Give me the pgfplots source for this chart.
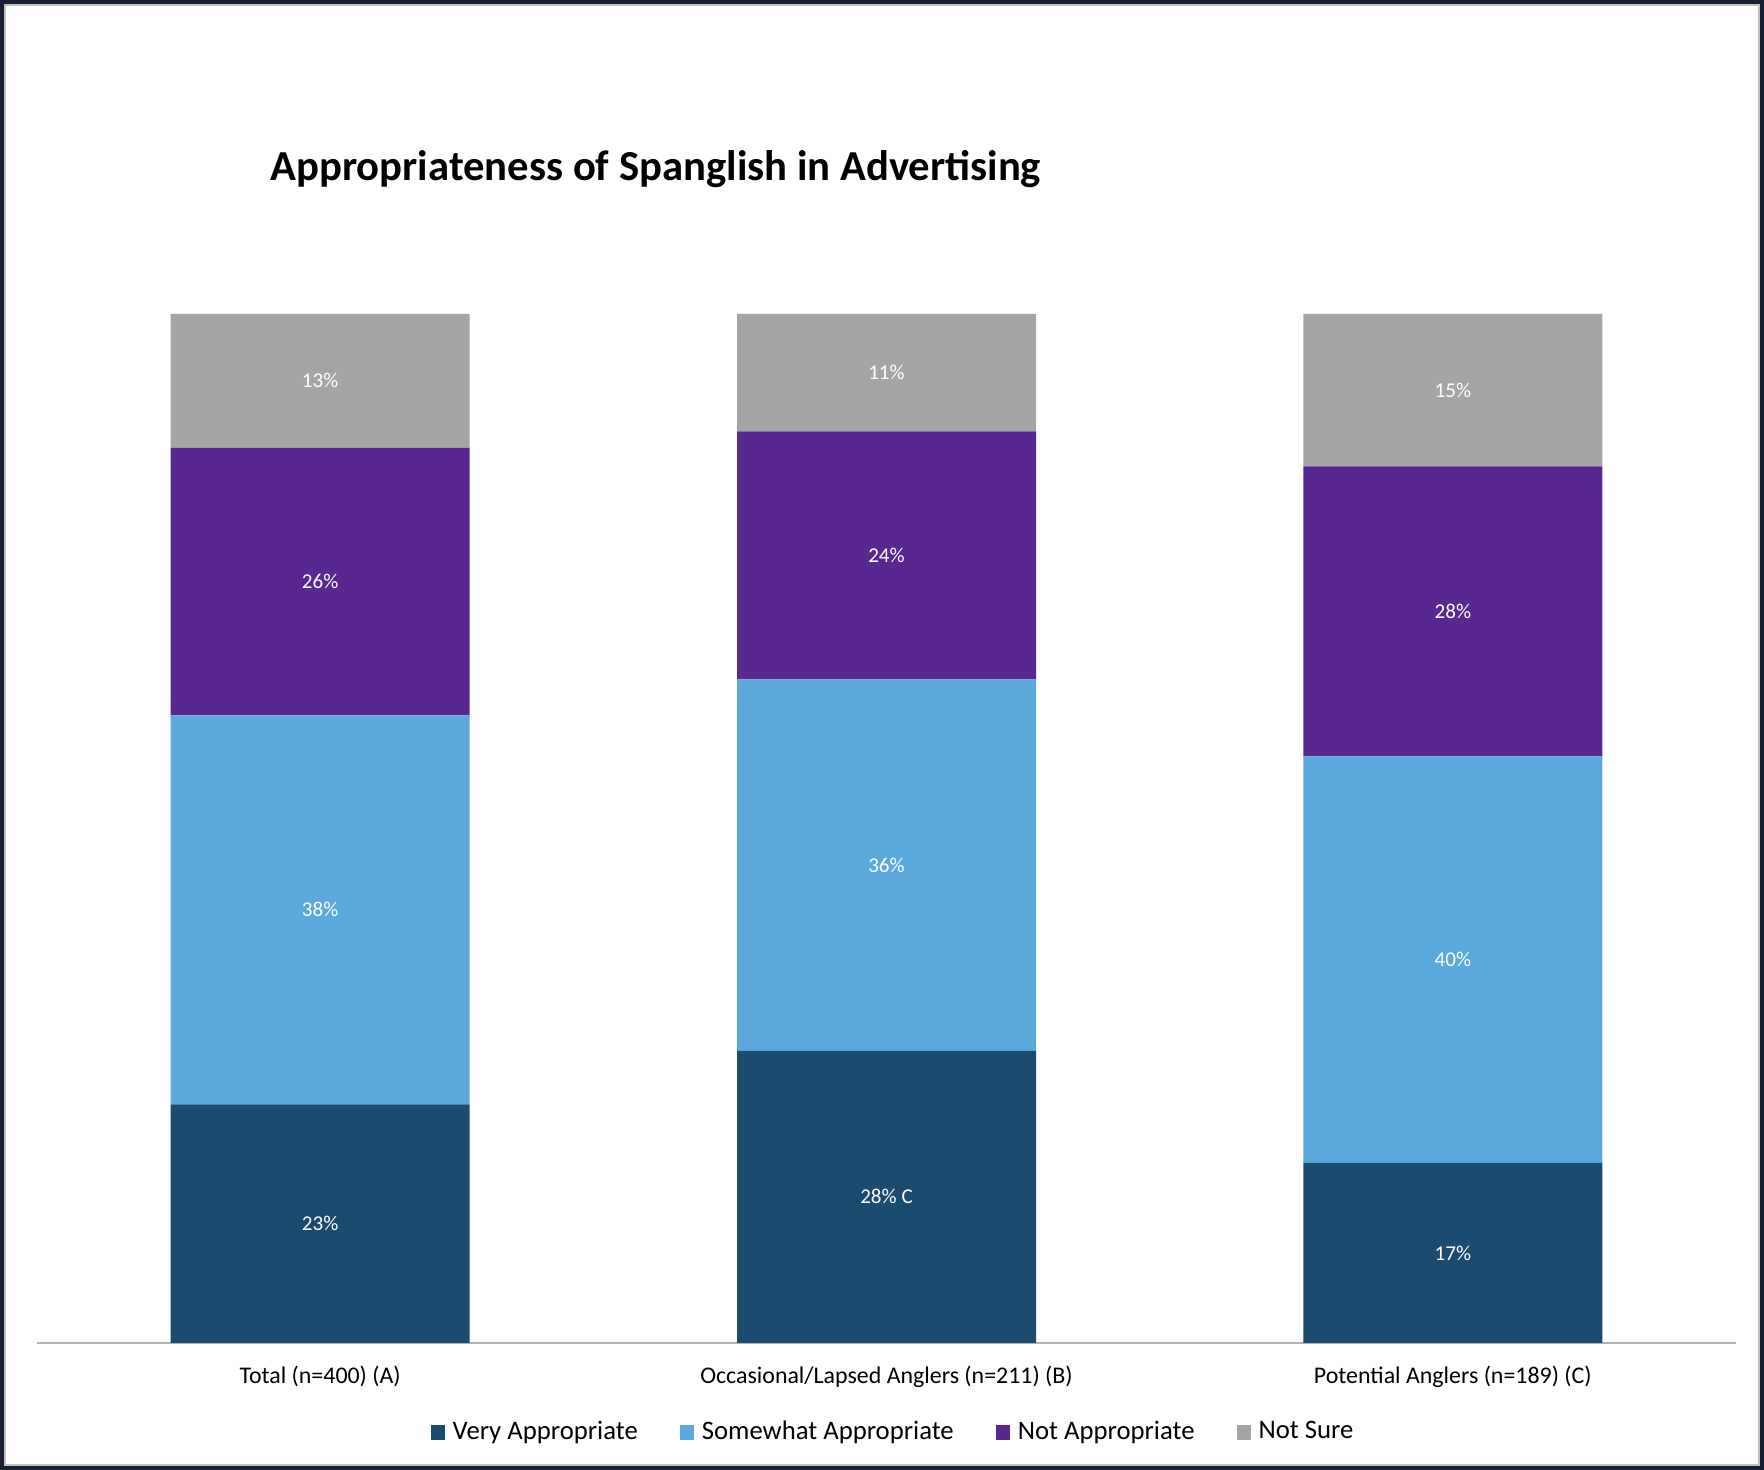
\documentclass[border=0pt]{standalone}
\usepackage{pgfplots}
\pgfplotsset{compat=1.18}
\usepackage{fontspec}
\setmainfont{Carlito}
\definecolor{cVA}{RGB}{27,75,110}
\definecolor{cSA}{RGB}{91,168,220}
\definecolor{cNA}{RGB}{88,39,143}
\definecolor{cNS}{RGB}{165,165,165}
\definecolor{cFrame}{RGB}{26,30,50}
\begin{document}
\begin{tikzpicture}
\useasboundingbox (0,0) rectangle (17.64,14.70);
\fill[white] (0,0) rectangle (17.64,14.70);
\draw[cFrame, line width=0.04cm] (0.02,0.02) rectangle (17.62,14.68);
\draw[black!25, line width=0.012cm] (0.05,0.05) rectangle (17.59,14.65);
\begin{axis}[
  at={(0.37cm,1.27cm)}, anchor=south west,
  scale only axis, width=16.99cm, height=10.29cm,
  ybar stacked, bar width=0.528,
  xmin=-0.5, xmax=2.5, ymin=0, ymax=100,
  axis x line*=bottom, axis y line=none,
  x axis line style={draw=black!30, line width=0.015cm, -},
  xtick={0,1,2}, major tick length=0pt,
  xticklabels={Total (n=400) (A), Occasional/Lapsed Anglers (n=211) (B), Potential Anglers (n=189) (C)},
  xticklabel style={anchor=base, yshift=-0.41cm, font=\fontsize{6.8}{8}\selectfont, text=black},
  ytick=\empty,
  title={Appropriateness of Spanglish in Advertising},
  title style={at={(0.137,1.1095)}, anchor=base west, inner sep=0pt, font=\fontsize{12.15}{14}\selectfont\bfseries},
  point meta=explicit symbolic,
  nodes near coords,
  every node near coord/.append style={anchor=center, text=white, font=\fontsize{6}{7}\selectfont},
  legend columns=4,
  legend style={at={(0.2313,-0.087)}, anchor=west, draw=none, fill=none, inner sep=0pt,
    font=\fontsize{7.6}{9}\selectfont, nodes={inner sep=0pt},
    /tikz/every odd column/.append style={column sep=0.075cm},
    /tikz/every even column/.append style={column sep=0.42cm}},
  legend image code/.code={\fill[#1] (0cm,-0.072cm) rectangle (0.145cm,0.072cm);},
]
\addplot[fill=cVA, draw=none] coordinates {(0,23.2) [23\%] (1,28.4) [28\%~C] (2,17.5) [17\%]};
\addplot[fill=cSA, draw=none] coordinates {(0,37.8) [38\%] (1,36.1) [36\%] (2,39.5) [40\%]};
\addplot[fill=cNA, draw=none] coordinates {(0,26.0) [26\%] (1,24.1) [24\%] (2,28.2) [28\%]};
\addplot[fill=cNS, draw=none] coordinates {(0,13.0) [13\%] (1,11.4) [11\%] (2,14.8) [15\%]};
\legend{Very Appropriate, Somewhat Appropriate, Not Appropriate, Not Sure}
\end{axis}
\end{tikzpicture}
\end{document}
